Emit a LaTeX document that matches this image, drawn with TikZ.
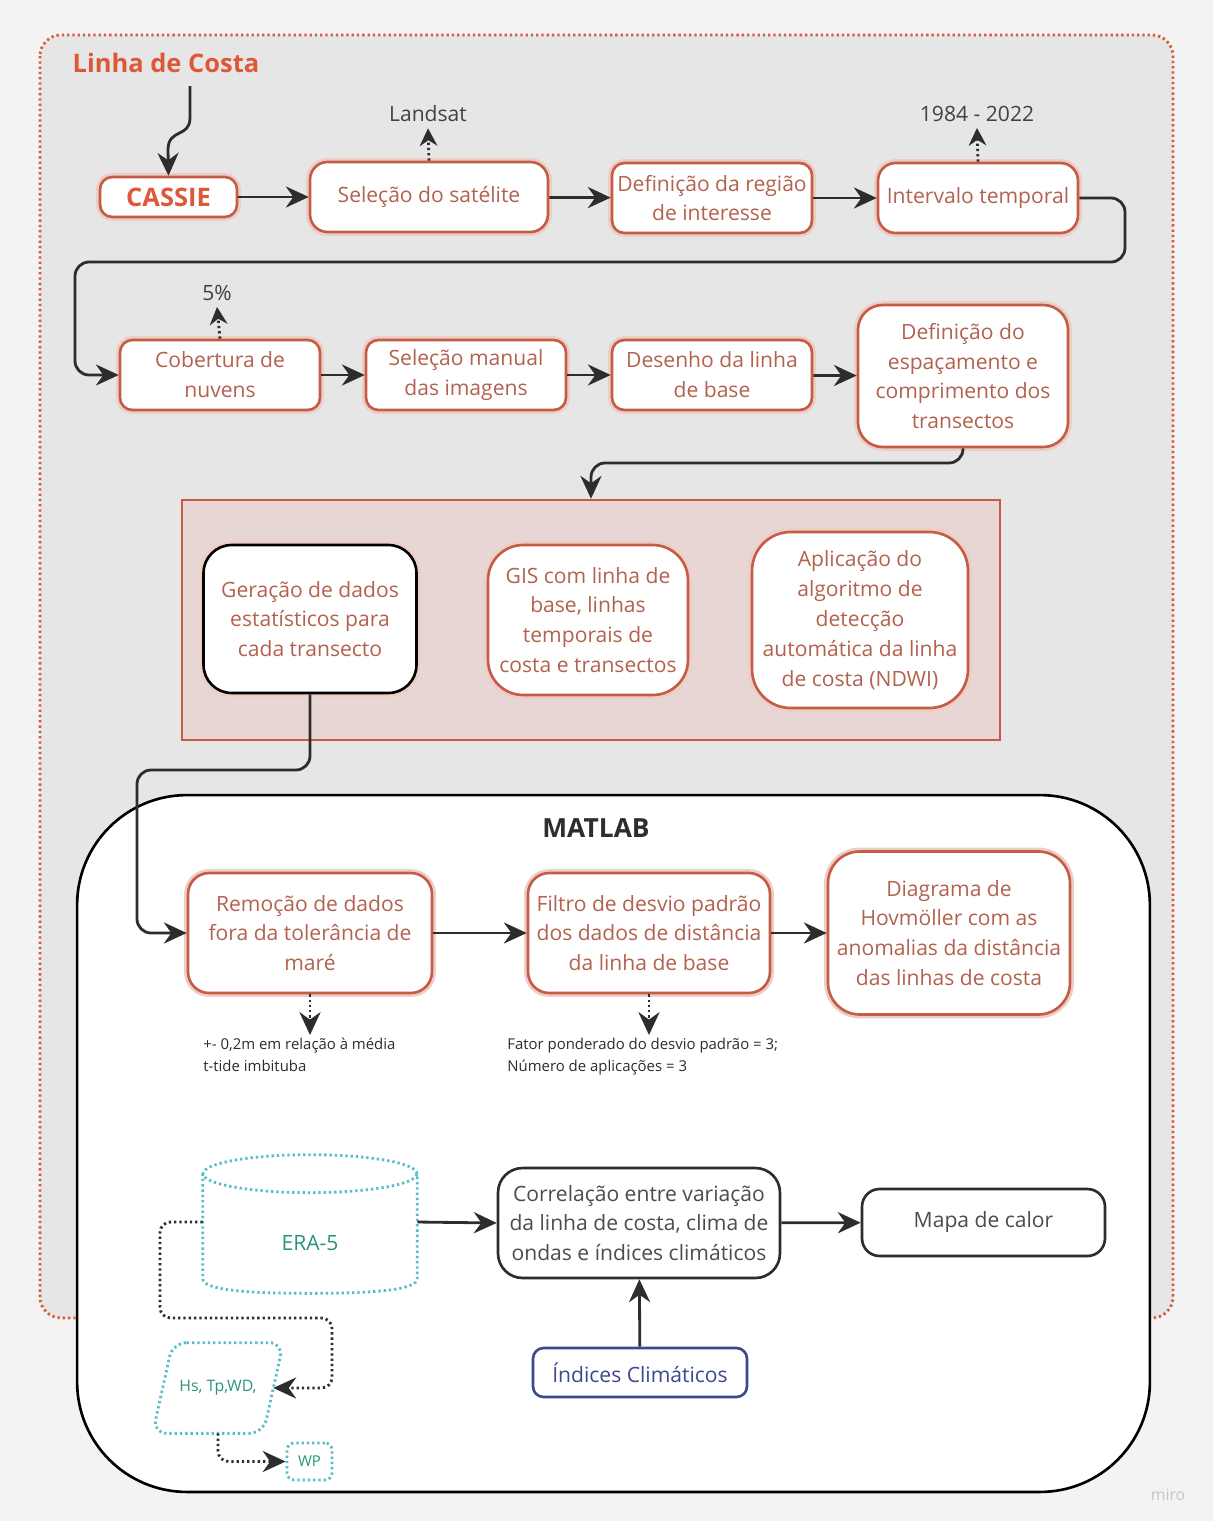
\documentclass[tikz,border=0pt]{standalone}
\usepackage{fontspec}
\setmainfont{Open Sans}
\usetikzlibrary{arrows.meta,shapes.geometric,positioning}
\definecolor{coastred}{RGB}{222,88,56}
\definecolor{boxred}{RGB}{196,92,70}
\definecolor{boxtxt}{RGB}{178,98,78}
\definecolor{inkgray}{RGB}{45,45,45}
\definecolor{panelgray}{RGB}{230,230,230}
\definecolor{pagegray}{RGB}{243,243,243}
\definecolor{grppink}{RGB}{231,214,211}
\definecolor{eradot}{RGB}{85,190,200}
\definecolor{eratxt}{RGB}{40,150,125}
\definecolor{indblue}{RGB}{62,72,140}
\newcommand{\stepfnt}{\fontsize{12}{17}\selectfont}
\newcommand{\notefnt}{\fontsize{8.5}{12.5}\selectfont}

\begin{document}
\begin{tikzpicture}[x=0.02cm, y=-0.02cm,
    stepbox/.style={draw=boxred, line width=1.5pt, fill=white, text=boxtxt, align=center,
      font=\stepfnt, inner sep=2pt, rounded corners=7pt,
      preaction={draw=boxred!30, line width=4.5pt}},
    inkbox/.style={draw=inkgray, line width=1.5pt, fill=white, text=inkgray!85, align=center,
      font=\stepfnt, inner sep=2pt, rounded corners=10pt},
    eraline/.style={draw=eradot, line width=1.6pt, dash pattern=on 1.3pt off 1.7pt},
    erabox/.style={eraline, fill=white, text=eratxt, align=center},
    flow/.style={draw=inkgray, line width=1.6pt, -{Stealth[length=13pt,width=12pt]}},
    dotflow/.style={flow, dash pattern=on 1.3pt off 1.7pt},
    tag/.style={text=inkgray!90, font=\stepfnt},
    note/.style={text=inkgray, font=\notefnt, align=left, anchor=north west, inner sep=0pt}]
    \useasboundingbox (0,0) rectangle (1213,1521);
    \fill[pagegray] (0,0) rectangle (1213,1521);
    %panel
    \draw[draw=coastred, fill=panelgray, line width=1.6pt, dash pattern=on 1.3pt off 1.7pt,
      rounded corners=12pt] (40,35) rectangle (1173,1318);
    \node[text=coastred, font=\fontsize{14.5}{17}\selectfont\bfseries] (title) at (166,63) {Linha de Costa};
    %states
    \node[stepbox, minimum width=2.74cm, minimum height=0.8cm, text=coastred,
      font=\fontsize{14.5}{17}\selectfont\bfseries] (cassie) at (168.5,197) {CASSIE};
    \node[stepbox, minimum width=4.76cm, minimum height=1.4cm, rounded corners=10pt] (sat) at (429,197) {Seleção do satélite};
    \node[stepbox, minimum width=4cm, minimum height=1.4cm] (regiao) at (712,198) {Definição da região\\de interesse};
    \node[stepbox, minimum width=4cm, minimum height=1.4cm, rounded corners=10pt] (inter) at (978,198) {Intervalo temporal};
    \node[tag] (landsat) at (428,114) {Landsat};
    \node[tag] (anos) at (977,114) {1984 - 2022};
    \node[stepbox, minimum width=4cm, minimum height=1.4cm] (cob) at (220,375) {Cobertura de\\nuvens};
    \node[stepbox, minimum width=4cm, minimum height=1.4cm] (manual) at (466,375) {Seleção manual\\das imagens};
    \node[stepbox, minimum width=4cm, minimum height=1.4cm] (desenho) at (712,375) {Desenho da linha\\de base};
    \node[stepbox, minimum width=4.2cm, minimum height=2.84cm, rounded corners=14pt] (trans) at (963,376) {Definição do\\espaçamento e\\comprimento dos\\transectos};
    \node[tag] (nuvem) at (217,293) {5\%};
    %cassie output
    \node[draw=boxred, fill=grppink, line width=1.5pt, minimum width=16.36cm, minimum height=4.8cm] (grp) at (591,620) {};
    \node[stepbox, draw=black, preaction={}, minimum width=4.26cm, minimum height=2.96cm, rounded corners=16pt] (ger) at (310,619) {Geração de dados\\estatísticos para\\cada transecto};
    \node[stepbox, minimum width=4cm, minimum height=3cm, rounded corners=20pt] (gis) at (588,620) {GIS com linha de\\base, linhas\\temporais de\\costa e transectos};
    \node[stepbox, minimum width=4.32cm, minimum height=3.52cm, rounded corners=22pt] (apl) at (860,620) {Aplicação do\\algoritmo de\\detecção\\automática da linha\\de costa (NDWI)};
    %matlab
    \node[draw=black, fill=white, line width=1.5pt, rounded corners=2.2cm, minimum width=21.46cm, minimum height=13.94cm] (matlab) at (613.5,1143.5) {};
    \node[text=inkgray, font=\fontsize{15}{17}\selectfont\bfseries] (mtitle) at (596,828) {MATLAB};
    \node[stepbox, minimum width=4.88cm, minimum height=2.4cm, rounded corners=12pt] (rem) at (310,933) {Remoção de dados\\fora da tolerância de\\maré};
    \node[stepbox, minimum width=4.84cm, minimum height=2.4cm, rounded corners=12pt] (fil) at (649,933) {Filtro de desvio padrão\\dos dados de distância\\da linha de base};
    \node[stepbox, minimum width=4.84cm, minimum height=3.26cm, rounded corners=18pt] (hov) at (949,933) {Diagrama de\\Hovmöller com as\\anomalias da distância\\das linhas de costa};
    \node[note] (remnote) at (203,1038) {+- 0,2m em relação à média\\t-tide imbituba};
    \node[note] (filnote) at (507,1038) {Fator ponderado do desvio padrão = 3;\\Número de aplicações = 3};
    \coordinate (remtip) at (310,1035);
    \coordinate (filtip) at (649,1035);
    % ERA-5 cylinder
    \node[text=eratxt, font=\stepfnt, minimum width=4.28cm, minimum height=2cm] (era) at (310,1243) {ERA-5};
    \draw[eraline] ([yshift=0.38cm]era.north west) -- ([yshift=0.3cm]era.south west)
      .. controls +(0,-0.22cm) and +(-1.4cm,0) .. (era.south)
      .. controls +(1.4cm,0) and +(0,-0.22cm) .. ([yshift=0.3cm]era.south east)
      -- ([yshift=0.38cm]era.north east);
    \draw[eraline] ([yshift=0.38cm]era.north) ellipse [x radius=2.14cm, y radius=0.38cm];
    \node[inkbox, minimum width=5.64cm, minimum height=2.2cm, rounded corners=14pt] (cor) at (639,1223) {Correlação entre variação\\da linha de costa, clima de\\ondas e índices climáticos};
    \node[inkbox, minimum width=4.86cm, minimum height=1.34cm] (mapa) at (983.5,1222.5) {Mapa de calor};
    \node[inkbox, draw=indblue, text=indblue, minimum width=4.28cm, minimum height=0.98cm, rounded corners=6pt] (ind) at (640,1372.5) {Índices Climáticos};
    % wave parameters
    \node[text=eratxt, font=\fontsize{9}{11}\selectfont, minimum width=2.6cm, minimum height=1.8cm] (hs) at (218,1388) {Hs, Tp,WD,};
    \draw[eraline, rounded corners=8pt] ([xshift=0.4cm]hs.north west) -- (hs.north east)
      -- ([xshift=-0.4cm]hs.south east) -- (hs.south west) -- cycle;
    \node[erabox, minimum width=0.9cm, minimum height=0.74cm, rounded corners=4pt, font=\fontsize{8.5}{10}\selectfont] (wp) at (309.5,1461.5) {WP};
    \node[text=gray!45, font=\fontsize{9}{10}\selectfont] (miro) at (1168,1495) {miro};
    %edges
    \coordinate (t0) at (190,86);
    \coordinate (r1) at (1125,262);
    \coordinate (l1) at (75,262);
    \coordinate (k1) at (591,463);
    \coordinate (k2) at (137,770);
    \coordinate (k3) at (160,1318);
    \coordinate (k4) at (332,1318);
    \draw[flow] (t0) -- (190,118) .. controls (190,138) and (168,128) .. (168,150) -- (cassie.north);
    \draw[flow] (cassie) -- (sat);
    \draw[flow] (sat) -- (regiao);
    \draw[flow] (regiao) -- (inter);
    \draw[flow, rounded corners=8pt] (inter.east) -| (r1) -- (l1) |- (cob.west);
    \draw[flow] (cob) -- (manual);
    \draw[flow] (manual) -- (desenho);
    \draw[flow] (desenho) -- (trans);
    \draw[dotflow, -{Stealth[length=10pt,width=10pt]}] (sat.north) -- (landsat.south);
    \draw[dotflow, -{Stealth[length=10pt,width=10pt]}] (inter.north) -- (anos.south);
    \draw[dotflow, -{Stealth[length=10pt,width=10pt]}] (cob.north) -- (nuvem.south);
    \draw[flow, rounded corners=8pt] (trans.south) |- (k1) -- (grp.north);
    \draw[flow, rounded corners=8pt] (ger.south) |- (k2) |- (rem.west);
    \draw[flow] (rem) -- (fil);
    \draw[flow] (fil) -- (hov);
    \draw[dotflow] (rem.south) -- (remtip);
    \draw[dotflow] (fil.south) -- (filtip);
    \draw[flow] ([yshift=0.42cm]era.east) -- (cor.west);
    \draw[flow] (cor) -- (mapa);
    \draw[flow] (ind) -- (cor);
    \draw[dotflow, rounded corners=6pt] ([yshift=0.42cm]era.west) -| (k3) -- (k4) |- ([xshift=-0.2cm]hs.east);
    \draw[dotflow, rounded corners=6pt] (hs.south) |- (wp.west);
\end{tikzpicture}
\end{document}
